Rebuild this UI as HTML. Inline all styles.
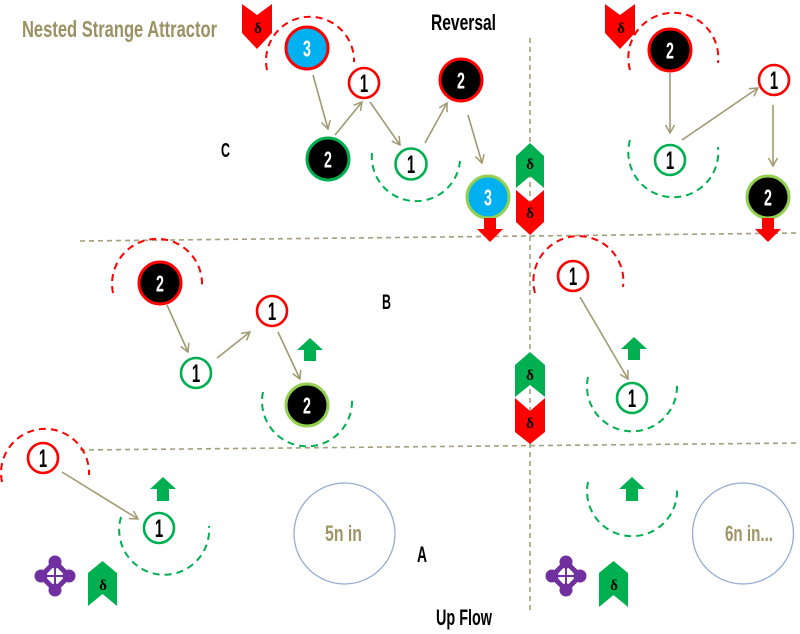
<!DOCTYPE html>
<html><head><meta charset="utf-8"><style>
html,body{margin:0;padding:0;background:#fff;}
svg{display:block;}
.lbl{font-family:"Liberation Sans",sans-serif;font-weight:bold;}
.n{font-family:"Liberation Sans",sans-serif;font-weight:bold;text-anchor:middle;}
.dl{font-family:"Liberation Serif",serif;font-weight:bold;font-size:15px;text-anchor:middle;fill:#000;}
</style></head><body>
<svg width="800" height="634" viewBox="0 0 800 634" xmlns="http://www.w3.org/2000/svg">
<defs>
<marker id="ah" markerUnits="userSpaceOnUse" markerWidth="12" markerHeight="12" refX="9" refY="5" orient="auto">
<path d="M1,0.5 L9,5 L1,9.5" fill="none" stroke="#a09a72" stroke-width="1.5"/>
</marker>
</defs>
<rect width="800" height="634" fill="#fff"/>

<!-- dashed grid lines -->
<g stroke="#a69e7c" stroke-width="1.6" stroke-dasharray="5,4" fill="none">
<line x1="80" y1="241" x2="800" y2="233"/>
<line x1="80" y1="450" x2="800" y2="443"/>
<line x1="530" y1="38" x2="530" y2="612"/>
</g>

<!-- title & labels -->
<text class="lbl" x="22" y="37" font-size="23" fill="#9b9164" textLength="195" lengthAdjust="spacingAndGlyphs">Nested Strange Attractor</text>
<text class="lbl" x="431" y="30" font-size="22" fill="#000" textLength="65" lengthAdjust="spacingAndGlyphs">Reversal</text>
<text class="lbl" x="436" y="625" font-size="22" fill="#000" textLength="56" lengthAdjust="spacingAndGlyphs">Up Flow</text>
<text class="lbl" x="221" y="157" font-size="20" fill="#000" textLength="9" lengthAdjust="spacingAndGlyphs">C</text>
<text class="lbl" x="382" y="309" font-size="21" fill="#000" textLength="9" lengthAdjust="spacingAndGlyphs">B</text>
<text class="lbl" x="417" y="562" font-size="22" fill="#000" textLength="10" lengthAdjust="spacingAndGlyphs">A</text>

<!-- dashed arcs -->
<g fill="none" stroke-width="2" stroke-dasharray="7,5">
<g stroke="#ff0000">
<path d="M267,70 A44,44 0 1 1 354,62"/>
<path d="M630,70 A45,45 0 1 1 718,63"/>
<path d="M113,293 A45,45 0 1 1 202,286"/>
<path d="M535,293 A45,45 0 1 1 623,287"/>
<path d="M2,482 A44,44 0 1 1 89,475"/>
</g>
<g stroke="#00b050">
<path d="M372,153 A44,44 0 1 0 460,161"/>
<path d="M630,140 A45,45 0 1 0 718,147"/>
<path d="M263,392 A45,45 0 1 0 352,400"/>
<path d="M588,377 A45,45 0 1 0 677,385"/>
<path d="M121,517 A45,45 0 1 0 209,526"/>
<path d="M588,482 A45,45 0 1 0 677,489"/>
</g>
</g>

<!-- connectors -->
<g stroke="#a09a72" stroke-width="1.6" fill="none" marker-end="url(#ah)">
<line x1="313" y1="75" x2="328" y2="129"/>
<line x1="335" y1="135" x2="362" y2="102"/>
<line x1="370" y1="102" x2="400" y2="145"/>
<line x1="425" y1="143" x2="447" y2="103"/>
<line x1="468" y1="115" x2="482" y2="163"/>
<line x1="670" y1="73" x2="670" y2="133"/>
<line x1="682" y1="140" x2="758" y2="88"/>
<line x1="773" y1="105" x2="773" y2="166"/>
<line x1="167" y1="305" x2="188" y2="352"/>
<line x1="217" y1="358" x2="250" y2="332"/>
<line x1="278" y1="332" x2="300" y2="379"/>
<line x1="580" y1="297" x2="628" y2="379"/>
<line x1="62" y1="472" x2="138" y2="519"/>
</g>

<!-- big nodes -->
<g stroke-width="3">
<circle cx="307" cy="48" r="21" fill="#00b0f0" stroke="#ff0000"/>
<circle cx="328" cy="159" r="21" fill="#000" stroke="#00b050"/>
<circle cx="461" cy="80" r="21" fill="#000" stroke="#ff0000"/>
<circle cx="488" cy="197" r="21" fill="#00b0f0" stroke="#92d050"/>
<circle cx="670" cy="50" r="21" fill="#000" stroke="#ff0000"/>
<circle cx="768" cy="197" r="21" fill="#000" stroke="#92d050"/>
<circle cx="160" cy="283" r="21" fill="#000" stroke="#ff0000"/>
<circle cx="307" cy="405" r="21" fill="#000" stroke="#92d050"/>
</g>
<!-- small nodes -->
<g stroke-width="2.6" fill="#fff">
<circle cx="364" cy="83" r="15" stroke="#ff0000"/>
<circle cx="411" cy="164" r="15.5" stroke="#00b050"/>
<circle cx="670" cy="160" r="15" stroke="#00b050"/>
<circle cx="774" cy="80" r="15" stroke="#ff0000"/>
<circle cx="196" cy="373" r="15" stroke="#00b050"/>
<circle cx="272" cy="311" r="15" stroke="#ff0000"/>
<circle cx="573" cy="276" r="15" stroke="#ff0000"/>
<circle cx="632" cy="398" r="15" stroke="#00b050"/>
<circle cx="43" cy="458" r="15" stroke="#ff0000"/>
<circle cx="159" cy="528" r="15" stroke="#00b050"/>
</g>

<!-- numbers -->
<g fill="#fff" font-size="23">
<g transform="translate(307,48) scale(0.62,1)"><text class="n" y="8.5">3</text></g>
<g transform="translate(328,159) scale(0.62,1)"><text class="n" y="8.5">2</text></g>
<g transform="translate(461,80) scale(0.62,1)"><text class="n" y="8.5">2</text></g>
<g transform="translate(488,197) scale(0.62,1)"><text class="n" y="8.5">3</text></g>
<g transform="translate(670,50) scale(0.62,1)"><text class="n" y="8.5">2</text></g>
<g transform="translate(768,197) scale(0.62,1)"><text class="n" y="8.5">2</text></g>
<g transform="translate(160,283) scale(0.62,1)"><text class="n" y="8.5">2</text></g>
<g transform="translate(307,405) scale(0.62,1)"><text class="n" y="8.5">2</text></g>
</g>
<g fill="#000" font-size="25">
<g transform="translate(364,83) scale(0.6,1)"><text class="n" y="9">1</text></g>
<g transform="translate(411,164) scale(0.6,1)"><text class="n" y="9">1</text></g>
<g transform="translate(670,160) scale(0.6,1)"><text class="n" y="9">1</text></g>
<g transform="translate(774,80) scale(0.6,1)"><text class="n" y="9">1</text></g>
<g transform="translate(196,373) scale(0.6,1)"><text class="n" y="9">1</text></g>
<g transform="translate(272,311) scale(0.6,1)"><text class="n" y="9">1</text></g>
<g transform="translate(573,276) scale(0.6,1)"><text class="n" y="9">1</text></g>
<g transform="translate(632,398) scale(0.6,1)"><text class="n" y="9">1</text></g>
<g transform="translate(43,458) scale(0.6,1)"><text class="n" y="9">1</text></g>
<g transform="translate(159,528) scale(0.6,1)"><text class="n" y="9">1</text></g>
</g>

<!-- red down arrows -->
<g fill="#ff0000">
<path d="M484,218 L496,218 L496,229 L503,229 L490,242 L477,229 L484,229 Z"/>
<path d="M762,218 L774,218 L774,229 L781,229 L768,242 L755,229 L762,229 Z"/>
</g>
<!-- green up arrows -->
<g fill="#00b050">
<path d="M310,338 L323,350 L316,350 L316,361 L304,361 L304,350 L297,350 Z"/>
<path d="M634,337 L647,349 L640,349 L640,360 L628,360 L628,349 L621,349 Z"/>
<path d="M163,477 L176,489 L169,489 L169,501 L157,501 L157,489 L150,489 Z"/>
<path d="M632,477 L645,489 L638,489 L638,501 L626,501 L626,489 L619,489 Z"/>
</g>

<!-- delta chevrons -->
<path d="M242,4 L257,15 L272,4 L272,33 L257,49 L242,33 Z" fill="#ff0000"/>
<text class="dl" x="258" y="33">δ</text>
<path d="M605,4 L620,15 L635,4 L635,33 L620,49 L605,33 Z" fill="#ff0000"/>
<text class="dl" x="621" y="33">δ</text>

<path d="M516,156 L530,143 L544,156 L544,188 L530,176 L516,188 Z" fill="#00b050"/>
<text class="dl" x="530" y="169">δ</text>
<path d="M516,190 L530,202 L544,190 L544,222 L530,235 L516,222 Z" fill="#ff0000"/>
<text class="dl" x="530" y="218">δ</text>

<path d="M515,365 L530,352 L545,365 L545,397 L530,385 L515,397 Z" fill="#00b050"/>
<text class="dl" x="530" y="380">δ</text>
<path d="M515,398 L530,411 L545,398 L545,432 L530,444 L515,432 Z" fill="#ff0000"/>
<text class="dl" x="530" y="428">δ</text>

<path d="M88,573 L102.5,561 L117,573 L117,606 L102.5,594 L88,606 Z" fill="#00b050"/>
<text class="dl" x="103" y="590">δ</text>
<path d="M599,573 L613.5,561 L628,573 L628,607 L613.5,595 L599,607 Z" fill="#00b050"/>
<text class="dl" x="614" y="590">δ</text>

<!-- purple icons -->
<g id="pi" transform="translate(55,576)">
<path d="M0,-14 L14,0 L0,14 L-14,0 Z" fill="none" stroke="#7030a0" stroke-width="5"/>
<line x1="0" y1="-14" x2="0" y2="14" stroke="#7030a0" stroke-width="2"/>
<line x1="-14" y1="0" x2="14" y2="0" stroke="#7030a0" stroke-width="2"/>
<circle cx="0" cy="-14" r="6.5" fill="#7030a0"/>
<circle cx="0" cy="14" r="6.5" fill="#7030a0"/>
<circle cx="-14" cy="0" r="6.5" fill="#7030a0"/>
<circle cx="14" cy="0" r="6.5" fill="#7030a0"/>
</g>
<g transform="translate(566,576)">
<path d="M0,-14 L14,0 L0,14 L-14,0 Z" fill="none" stroke="#7030a0" stroke-width="5"/>
<line x1="0" y1="-14" x2="0" y2="14" stroke="#7030a0" stroke-width="2"/>
<line x1="-14" y1="0" x2="14" y2="0" stroke="#7030a0" stroke-width="2"/>
<circle cx="0" cy="-14" r="6.5" fill="#7030a0"/>
<circle cx="0" cy="14" r="6.5" fill="#7030a0"/>
<circle cx="-14" cy="0" r="6.5" fill="#7030a0"/>
<circle cx="14" cy="0" r="6.5" fill="#7030a0"/>
</g>

<!-- big circles -->
<circle cx="344.5" cy="533.5" r="50.5" fill="none" stroke="#94acd0" stroke-width="1.3"/>
<text class="lbl" x="325" y="541" font-size="22" fill="#a09467" textLength="37" lengthAdjust="spacingAndGlyphs">5n in</text>
<circle cx="743" cy="533.5" r="50.5" fill="none" stroke="#94acd0" stroke-width="1.3"/>
<text class="lbl" x="725" y="541" font-size="22" fill="#a09467" textLength="48" lengthAdjust="spacingAndGlyphs">6n in...</text>
</svg>
</body></html>
